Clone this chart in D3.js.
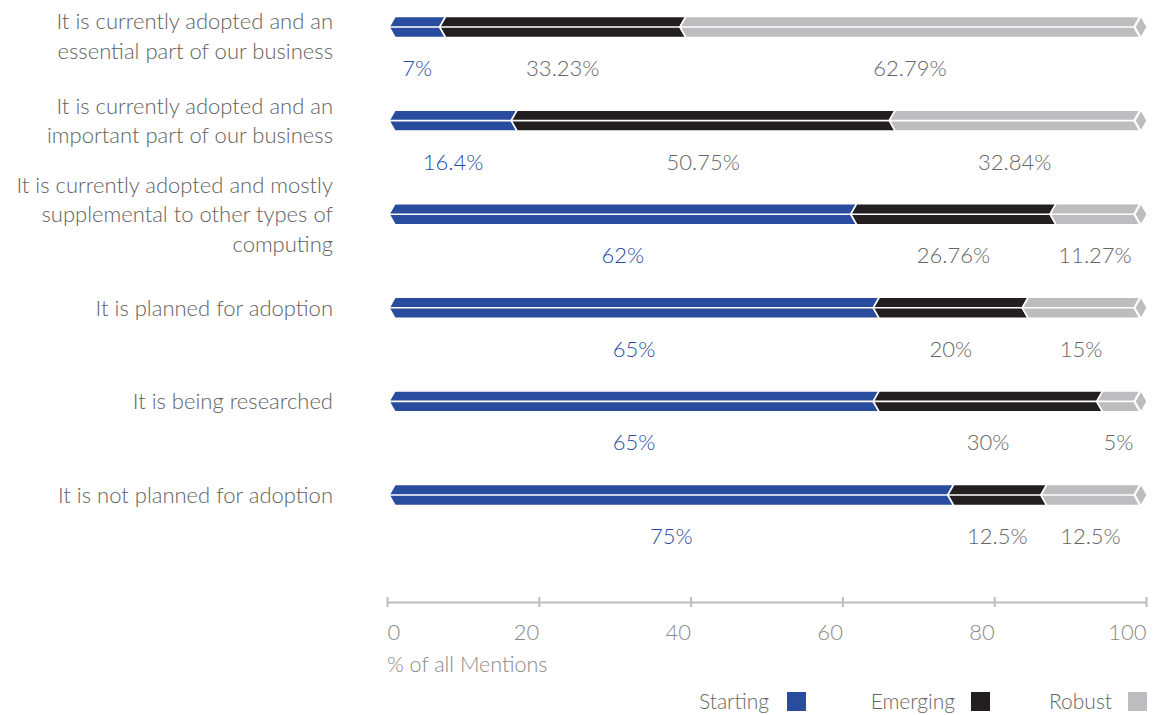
<!DOCTYPE html>
<html>
<head>
<meta charset="utf-8">
<script src="https://cdn.jsdelivr.net/npm/d3@7"></script>
<style>
  html, body { margin: 0; padding: 0; background: #fff; }
  svg { display: block; font-family: Lato, "Open Sans", sans-serif; font-weight: 300; }
</style>
</head>
<body>
<svg id="chart" width="1163" height="715"></svg>
<script>
// Adoption stage of each category, split by maturity (shares of mentions, %)
const categories = [
  ["It is currently adopted and an", "essential part of our business"],
  ["It is currently adopted and an", "important part of our business"],
  ["It is currently adopted and mostly", "supplemental to other types of", "computing"],
  ["It is planned for adoption"],
  ["It is being researched"],
  ["It is not planned for adoption"]
];
const starting = [7, 16.4, 62, 65, 65, 75];
const emerging = [33.23, 50.75, 26.76, 20, 30, 12.5];
const robust   = [62.79, 32.84, 11.27, 15, 5, 12.5];
const seriesNames = ["Starting", "Emerging", "Robust"];
const xTicks = [0, 20, 40, 60, 80, 100];
const axisTitle = "% of all Mentions";

const colors = ["#2a4c9f", "#231f20", "#bdbdc0"];
const labelColors = ["#2a4c9f", "#666666", "#666666"];

const svg = d3.select("#chart");

// Axis scale and the bar scale (bars leave room for the arrow tip)
const x = d3.scaleLinear().domain([0, 100]).range([387, 1146]);
const tip = 6;
const xBar = x.copy().range([x(0) + 2, x(100) - 2 * tip]);

const y = d3.scaleBand().domain(d3.range(categories.length)).range([-19.8, 541.8]).paddingInner(0);
const barH = 21;

const rows = categories.map((c, i) => {
  const vals = [starting[i], emerging[i], robust[i]];
  const total = d3.sum(vals);
  let acc = 0;
  const segs = vals.map((v, k) => {
    const s = { k, v, x0: acc / total * 100 };
    acc += v;
    s.x1 = acc / total * 100;
    return s;
  });
  return { i, lines: c, segs };
});

const rowMid = i => y(i) + y.bandwidth() / 2;

const g = svg.append("g");

rows.forEach(r => {
  const mid = rowMid(r.i);
  const top = mid - barH / 2, bot = mid + barH / 2;
  const rg = g.append("g");

  r.segs.forEach(s => {
    const a = xBar(s.x0), b = xBar(s.x1);
    const pts = [[a, mid], [a + tip, top], [b + tip, top], [b, mid], [b + tip, bot], [a + tip, bot]];
    rg.append("polygon")
      .attr("points", pts.map(p => p.join(",")).join(" "))
      .attr("fill", colors[s.k])
      .attr("stroke", "#fff")
      .attr("stroke-width", 1.6)
      .attr("stroke-linejoin", "miter");
  });

  // arrow tip
  const e = xBar(100);
  const dia = [[e + 1, mid], [e + tip + 1, top], [e + 2 * tip + 1, mid], [e + tip + 1, bot]];
  rg.append("polygon")
    .attr("points", dia.map(p => p.join(",")).join(" "))
    .attr("fill", colors[2])
    .attr("stroke", "#fff")
    .attr("stroke-width", 1.2);

  // centre rule
  rg.append("line")
    .attr("x1", xBar(0)).attr("x2", xBar(100))
    .attr("y1", mid).attr("y2", mid)
    .attr("stroke", "#fff").attr("stroke-width", 1.6);

  // value labels
  r.segs.forEach(s => {
    const cx = (xBar(s.x0) + xBar(s.x1) + tip) / 2;
    rg.append("text")
      .attr("x", cx)
      .attr("y", mid + 49)
      .attr("text-anchor", "middle")
      .attr("font-size", 22)
      .attr("fill", labelColors[s.k])
      .text(s.v + "%");
  });

  // category label
  const lh = 29.5;
  let firstLine = mid - (r.lines.length - 1) * lh / 2;
  firstLine = Math.max(firstLine, 21);
  const t = g.append("text")
    .attr("text-anchor", "end")
    .attr("font-size", 22)
    .attr("fill", "#626262");
  r.lines.forEach((ln, j) => {
    t.append("tspan")
      .attr("x", 333)
      .attr("y", firstLine + j * lh + 8)
      .text(ln);
  });
});

// x axis
const axisY = 602;
const ax = svg.append("g")
  .attr("transform", `translate(0,${axisY})`)
  .call(d3.axisBottom(x).tickValues(xTicks).tickSize(0).tickPadding(0).tickFormat(d3.format("d")));
ax.select(".domain").attr("stroke", "#bdbdbd").attr("stroke-width", 2.2);
ax.selectAll(".tick line")
  .attr("y1", -5).attr("y2", 5)
  .attr("stroke", "#bdbdbd").attr("stroke-width", 2);
ax.selectAll(".tick text")
  .attr("y", 38).attr("dy", 0)
  .attr("font-family", "Lato, 'Open Sans', sans-serif")
  .attr("font-weight", 300)
  .attr("font-size", 22)
  .attr("fill", "#8a8a8a")
  .attr("text-anchor", d => d === 0 ? "start" : "end");

svg.append("text")
  .attr("x", 387).attr("y", 672)
  .attr("font-size", 21.5)
  .attr("fill", "#8a8a8a")
  .text(axisTitle);

// legend
const legendRight = [769, 955, 1112];
const legendSq = [787, 971, 1128];
seriesNames.forEach((n, k) => {
  svg.append("text")
    .attr("x", legendRight[k]).attr("y", 709)
    .attr("text-anchor", "end")
    .attr("font-size", 21)
    .attr("fill", "#666666")
    .text(n);
  svg.append("rect")
    .attr("x", legendSq[k]).attr("y", 692)
    .attr("width", 19).attr("height", 19)
    .attr("fill", colors[k]);
});
</script>
</body>
</html>
